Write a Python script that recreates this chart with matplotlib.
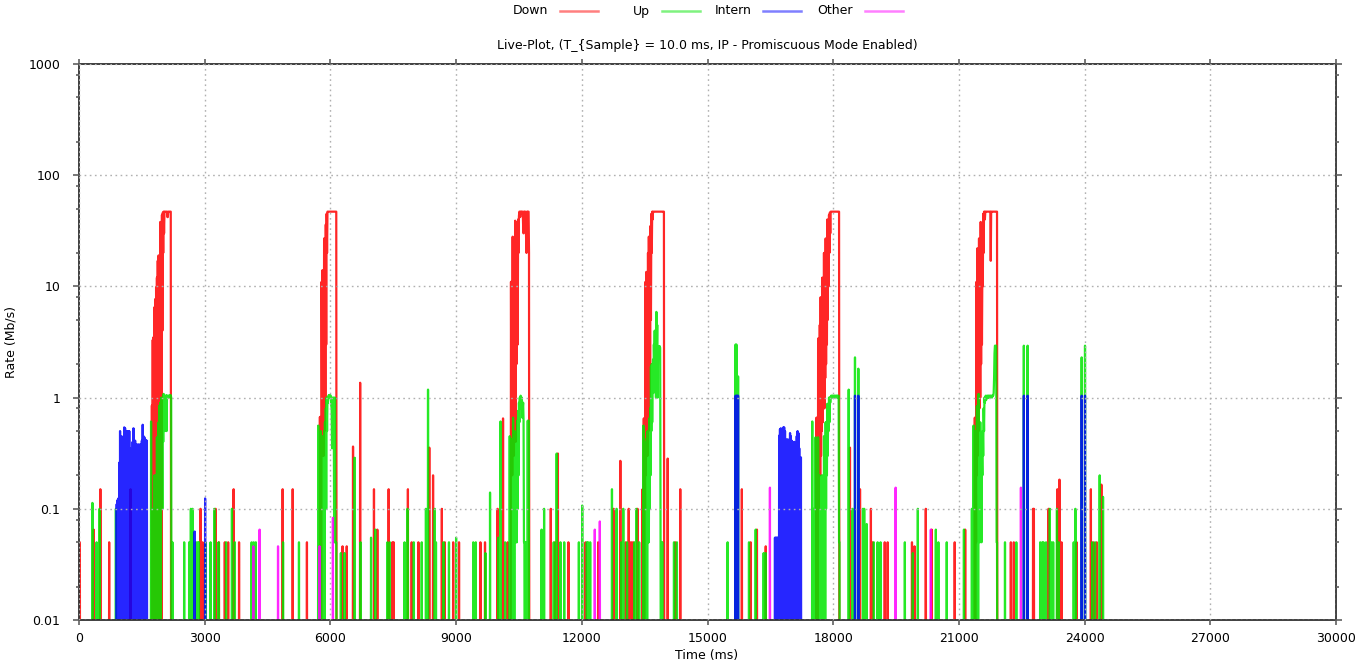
import numpy as np
import matplotlib.pyplot as plt
from matplotlib.ticker import FixedLocator, LogLocator, NullFormatter
from matplotlib.lines import Line2D

plt.rcParams['path.simplify'] = False
plt.rcParams['font.family'] = ['DejaVu Sans']
FS = 9

# sampling of the live plot
T_SAMPLE = 10      # ms
T_END = 24450      # ms, last sample shown

series_names = ['Down', 'Up', 'Intern', 'Other']
series_colors = ['#ff0000', '#00e600', '#0000ff', '#ff00ff']

x_ticks = [0, 3000, 6000, 9000, 12000, 15000, 18000, 21000, 24000, 27000, 30000]
y_ticks = [0.01, 0.1, 1, 10, 100, 1000]
y_tick_labels = ['0.01', '0.1', '1', '10', '100', '1000']

# ---- Down (Mb/s) ----
down_t = [20, 350, 510, 720, 1230, 2900, 2950, 3260, 3340, 3480, 3560, 3690, 3820,
          4860, 5100, 5440, 6290, 6390, 6540, 6710, 7040, 7120, 7390, 7480, 7510,
          7850, 7940, 8100, 8360, 8450, 8660, 8730, 8930, 9070, 9580, 9690, 9990,
          10120, 10230, 11260, 11360, 11430, 11680, 12090, 12390, 12760, 12920,
          13050, 13120, 13150, 13190, 13230, 13330, 13450, 14050, 14230, 14350,
          15820, 16030, 16180, 16390, 18400, 18640, 18900, 18940, 19230, 19300,
          19880, 19940, 20210, 20350, 20900, 21150, 22240, 22310, 22770, 22790,
          23140, 23350, 23400, 23450, 23810, 24150, 24210, 24290, 24400]
down_v = [0.05, 0.065, 0.15, 0.05, 0.15, 0.1, 0.05, 0.1, 0.05, 0.05, 0.05, 0.15, 0.05,
          0.15, 0.15, 0.05, 0.046, 0.046, 0.363, 1.36, 0.15, 0.065, 0.15, 0.05, 0.05,
          0.15, 0.05, 0.05, 0.355, 0.2, 0.1, 0.05, 0.05, 0.05, 0.05, 0.05, 0.1,
          0.65, 0.05, 0.1, 0.05, 0.314, 0.05, 0.05, 0.05, 0.1, 0.27,
          0.05, 0.1, 0.05, 0.05, 0.05, 0.1, 0.15, 0.283, 0.05, 0.15,
          0.15, 0.05, 0.065, 0.046, 0.355, 0.15, 0.1, 0.05, 0.05, 0.05,
          0.05, 0.046, 0.1, 0.065, 0.05, 0.065, 0.05, 0.05, 0.1, 0.1,
          0.1, 0.15, 0.183, 0.05, 0.05, 0.15, 0.05, 0.05, 0.165]
down_burst_starts = [1740, 5750, 10310, 13480, 17600, 21380]
down_bursts = [
    [0.85, 0, 3.3, 0, 3.5, 0.2, 6.5, 0, 7.7, 0, 9.8, 0.3, 12, 0, 17, 0, 19, 1, 18, 0,
     38, 3, 38, 0, 44, 4, 46, 20, 47, 30, 47, 47, 47, 47, 47, 47, 47, 42, 42, 47,
     47, 47, 47, 47, 47, 47, 0],
    [0.67, 0, 0.67, 0, 11, 0.3, 14, 0.3, 12, 0.3, 27, 0.5, 20, 1, 36, 3, 45, 20,
     47, 47, 47, 47, 47, 47, 47, 47, 47, 47, 47, 47, 47, 47, 47, 47, 47, 47, 47, 47,
     47, 47, 0],
    [11, 0.3, 9, 0.2, 28, 0.5, 17, 0.3, 27, 1, 39, 0.4, 38, 2, 8, 17, 3, 40, 20, 43,
     47, 47, 42, 47, 47, 45, 47, 47, 47, 35, 30, 47, 47, 44, 47, 40, 28, 20, 47, 44,
     47, 47, 47, 20, 0],
    [0.65, 0, 0.65, 0.1, 11, 0.2, 13.5, 0.3, 10, 0.3, 20, 0.5, 28, 1, 28, 2, 35, 5,
     45, 20, 47, 40, 47, 47, 47, 47, 47, 47, 47, 47, 47, 47, 47, 47, 47, 47, 47, 47,
     47, 47, 47, 47, 47, 47, 47, 47, 47, 47, 47, 0],
    [0.66, 0, 0.66, 0, 3.4, 0.1, 3.4, 0.3, 4.5, 0.2, 8, 0.3, 6, 0.5, 12, 0.6, 10, 1,
     20, 0.8, 18, 1.5, 27, 2, 25, 3, 40, 5, 38, 10, 44, 20, 46, 30, 47, 47, 47, 47,
     47, 47, 47, 47, 47, 47, 47, 47, 47, 47, 47, 47, 47, 47, 47, 47, 47, 0],
    [0.66, 0, 0.66, 0.05, 11, 0.2, 22, 0.3, 11, 0.5, 27, 0.8, 20, 1, 38, 2, 30, 3,
     15, 10, 45, 20, 47, 47, 40, 47, 47, 47, 47, 47, 47, 47, 47, 47, 47, 47, 47, 47,
     17, 47, 47, 47, 47, 47, 47, 47, 47, 47, 47, 47, 47, 47, 47, 47, 0],
]

# ---- Up (Mb/s) ----
up_t = [320, 420, 490, 880, 2230, 2510, 2630, 2670, 2710, 2790, 2830, 2860, 3020,
        3140, 3230, 3330, 3510, 3650, 3720, 4120, 4170, 4220, 4870, 5250, 6250,
        6340, 6580, 6720, 6970, 7070, 7360, 7420, 7770, 7840, 7990, 8180, 8280,
        8330, 8490, 8520, 8700, 8830, 9000, 9410, 9470, 9700, 9810, 10010, 10060,
        10170, 11040, 11100, 11330, 11400, 11490, 11580, 11930, 12010, 12120,
        12150, 12200, 12720, 12830, 12940, 12990, 13080, 13260, 13300, 13370,
        14200, 14270, 15480, 15670, 15690, 15710, 15730, 15990, 16150, 16340,
        16390, 17500, 18370, 18460, 18520, 18600, 18710, 18740, 18800, 18970,
        19060, 19130, 19710, 19900, 20020, 20450, 20510, 20710, 21120, 22100,
        22370, 22550, 22640, 22940, 22990, 23020, 23080, 23170, 23210, 23250,
        23340, 23380, 23740, 23780, 23930, 24010, 24180, 24250, 24360, 24440]
up_v = [0.113, 0.05, 0.1, 0.1, 0.05, 0.05, 0.05, 0.1, 0.1, 0.05, 0.05, 0.05, 0.05,
        0.05, 0.1, 0.05, 0.05, 0.1, 0.05, 0.05, 0.05, 0.05, 0.05, 0.05, 0.04,
        0.04, 0.288, 0.05, 0.055, 0.065, 0.05, 0.05, 0.05, 0.1, 0.05, 0.05, 0.1,
        1.18, 0.1, 0.05, 0.05, 0.05, 0.055, 0.05, 0.05, 0.04, 0.14, 0.055, 0.61,
        0.05, 0.065, 0.1, 0.05, 0.314, 0.05, 0.05, 0.05, 0.107, 0.05,
        0.05, 0.05, 0.15, 0.1, 0.05, 0.1, 0.05, 0.05, 0.1, 0.05,
        0.05, 0.05, 0.05, 3.0, 3.0, 1.55, 1.55, 0.05, 0.065, 0.04,
        0.04, 0.61, 1.18, 0.1, 2.3, 1.82, 0.1, 0.1, 0.073, 0.05,
        0.05, 0.05, 0.05, 0.04, 0.1, 0.065, 0.05, 0.05, 0.065, 0.05,
        0.05, 2.93, 2.93, 0.05, 0.05, 0.05, 0.05, 0.1, 0.05, 0.05,
        0.1, 0.05, 0.05, 0.1, 2.3, 2.93, 0.05, 0.05, 0.2, 0.128]
up_burst_starts = [1720, 5710, 10280, 13470, 17540, 21310]
up_bursts = [
    [0.61, 0, 0.05, 0, 0.1, 0, 0.05, 0, 0.2, 0, 0.05, 0, 0.2, 0, 0.44, 0, 0.3, 0,
     0.6, 0, 0.85, 0.05, 0.9, 0, 1.0, 0.3, 0.5, 0.1, 0.9, 0.4, 1.08, 0.6, 1.0, 0.5,
     0.6, 1.0, 1.05, 0.5, 1.04, 1.04, 1.0, 1.04, 1.04, 1.0, 1.04, 1.05, 1.04, 1.05,
     1.0, 0],
    [0.56, 0, 0.05, 0, 0.3, 0, 0.5, 0, 0.2, 0, 0.45, 0, 0.3, 0.05, 0.5, 0, 0.6, 0.1,
     0.8, 0.1, 1.0, 0.5, 1.0, 0.9, 1.0, 1.05, 1.0, 1.05, 1.0, 1.05, 1.0, 0.85, 0.8,
     0.35, 1.0, 1.0, 1.0, 1.0, 0.05, 0.05, 1.0, 0.05, 0.05, 0.05, 0],
    [0.45, 0, 0.43, 0, 0.3, 0, 0.25, 0, 0.66, 0, 0.4, 0, 0.5, 0.05, 0.23, 0.05, 0.35,
     0.05, 0.62, 0.1, 0.76, 0.2, 0.9, 0.6, 1.0, 0.8, 1.04, 1.0, 0.8, 1.0, 0.66, 0.8,
     0.9, 0.62, 0.05, 0.05, 0, 0.05, 0, 0.05, 0, 0.05, 0, 0.62, 0, 0.62, 0],
    [0.56, 0, 0.43, 0, 0.3, 0, 0.29, 0, 0.4, 0, 0.5, 0.05, 0.3, 0.05, 0.65, 0.1, 0.8,
     0.2, 1.9, 0.5, 2.0, 0.6, 1.5, 2.2, 1.1, 3.0, 2.0, 4.0, 1.2, 2.5, 1.0, 5.9, 2.0,
     4.5, 1.0, 2.9, 2.8, 2.9, 2.8, 2.9, 2.8, 0.05, 0, 0.05, 0, 0.05, 0],
    [0.1, 0, 0.05, 0, 0.44, 0, 0.3, 0, 0.1, 0, 0.44, 0, 0.2, 0, 0.15, 0, 0.1, 0, 0.2,
     0, 0.15, 0, 0.2, 0, 0.45, 0.05, 0.3, 0, 0.6, 0.1, 0.6, 0.2, 0.88, 0.3, 0.78, 0.5,
     1.0, 0.6, 1.0, 0.9, 1.0, 1.04, 1.0, 1.04, 1.04, 1.0, 1.04, 1.04, 1.04, 1.0, 1.04,
     1.04, 1.04, 1.0, 1.04, 1.04, 1.04, 1.0, 1.04, 1.04, 0.05, 0.05, 0],
    [0.1, 0, 0.05, 0, 0.56, 0, 0.43, 0, 0.31, 0, 0.5, 0, 0.84, 0.05, 0.4, 0, 1.08,
     0.1, 0.3, 0.05, 0.6, 0.1, 0.2, 0.05, 0.3, 0.2, 0.5, 0.3, 0.8, 0.5, 1.0, 0.9, 1.0,
     1.04, 0.95, 1.0, 1.04, 1.0, 1.04, 1.0, 1.04, 1.0, 1.04, 1.04, 1.0, 1.04, 1.04,
     1.04, 1.0, 1.04, 1.04, 1.04, 1.1, 1.5, 2.5, 2.93, 2.93, 2.93, 2.93, 0.05, 0.05,
     0],
]

# ---- Intern (Mb/s) ----
intern_t = [2760, 3010, 15670, 15690, 15710, 15730, 18520, 18600, 22550, 22640,
            23930, 24010]
intern_v = [0.0625, 0.124, 1.04, 1.04, 1.04, 1.04, 1.04, 1.04, 1.04, 1.04, 1.04, 1.04]
intern_burst_starts = [900, 16610]
intern_bursts = [
    [0.11, 0, 0.12, 0, 0.124, 0, 0.26, 0, 0.5, 0, 0.45, 0, 0.405, 0, 0.38, 0, 0.45,
     0, 0.54, 0, 0.53, 0, 0.41, 0, 0.5, 0, 0.5, 0, 0.5, 0, 0.5, 0, 0.35, 0, 0.29, 0,
     0.29, 0, 0.4, 0, 0.53, 0, 0.41, 0, 0.41, 0, 0.31, 0, 0.38, 0, 0.33, 0, 0.38, 0,
     0.29, 0, 0.38, 0, 0.37, 0, 0.41, 0, 0.57, 0, 0.45, 0, 0.44, 0, 0.42, 0, 0.41, 0,
     0.41, 0],
    [0.055, 0, 0.055, 0, 0.055, 0, 0.055, 0, 0.055, 0, 0.455, 0, 0.52, 0, 0.53, 0,
     0.42, 0, 0.36, 0, 0.54, 0, 0.54, 0, 0.5, 0, 0.36, 0, 0.42, 0, 0.42, 0, 0.41, 0,
     0.42, 0, 0.48, 0, 0.45, 0, 0.41, 0, 0.4, 0, 0.38, 0, 0.4, 0, 0.38, 0, 0.38, 0,
     0.45, 0, 0.5, 0, 0.48, 0, 0.35, 0, 0.29, 0, 0.29, 0],
]

# ---- Other (Mb/s) ----
other_t = [4160, 4310, 4750, 5740, 6060, 12310, 12430, 16490, 19490, 20330, 22480]
other_v = [0.046, 0.065, 0.046, 0.046, 0.083, 0.065, 0.077, 0.155, 0.155, 0.065, 0.155]

n_samples = T_END // T_SAMPLE + 1
time_ms = np.arange(n_samples) * T_SAMPLE


def build_series(sparse_t, sparse_v, starts=(), bursts=()):
    rate = np.zeros(n_samples)
    for t, v in zip(sparse_t, sparse_v):
        rate[int(round(t / T_SAMPLE))] = v
    for s, b in zip(starts, bursts):
        i0 = int(round(s / T_SAMPLE))
        rate[i0:i0 + len(b)] = b
    # zero samples fall below the log axis
    return np.where(rate > 0, rate, 1e-4)


series = [
    build_series(down_t, down_v, down_burst_starts, down_bursts),
    build_series(up_t, up_v, up_burst_starts, up_bursts),
    build_series(intern_t, intern_v, intern_burst_starts, intern_bursts),
    build_series(other_t, other_v),
]

fig = plt.figure(figsize=(13.6, 6.66), dpi=100)
ax = fig.add_axes([79 / 1360, 1 - 620 / 666, (1336 - 79) / 1360, (620 - 64) / 666])

for rate, color in zip(series, series_colors):
    ax.plot(time_ms, rate, color=color, lw=1.6, alpha=0.85)

ax.set_yscale('log')
ax.set_xlim(0, 30000)
ax.set_ylim(0.01, 1000)
ax.xaxis.set_major_locator(FixedLocator(x_ticks))
ax.set_xticklabels([str(x) for x in x_ticks])
ax.yaxis.set_major_locator(FixedLocator(y_ticks))
ax.set_yticklabels(y_tick_labels)
ax.yaxis.set_minor_locator(LogLocator(base=10, subs=(2, 5, 8)))
ax.yaxis.set_minor_formatter(NullFormatter())

ax.tick_params(which='both', direction='out', top=True, right=True,
               color='#606060', labelsize=FS, width=1.2)
ax.tick_params(axis='y', which='major', length=4.5, pad=9)
ax.tick_params(axis='y', which='minor', length=2.2)
ax.tick_params(axis='x', which='major', length=3.5, pad=5)

ax.set_axisbelow(False)
ax.grid(True, which='major', color='#b0b0b0', linestyle=(0, (1.2, 2.5)), linewidth=1)
for sp in ax.spines.values():
    sp.set_color('#303030')
    sp.set_linewidth(1.3)

fig.text(707 / 1360, 1 - 45 / 666,
         'Live-Plot, (T_{Sample} = 10.0 ms, IP - Promiscuous Mode Enabled)',
         ha='center', va='center', fontsize=FS)
fig.text(707 / 1360, 1 - 655 / 666, 'Time (ms)', ha='center', va='center', fontsize=FS)
fig.text(11 / 1360, 1 - 342 / 666, 'Rate (Mb/s)', rotation=90,
         ha='center', va='center', fontsize=FS)

# legend row: right aligned label, then line sample
for i, (name, color) in enumerate(zip(series_names, series_colors)):
    x0 = 548 + 101.7 * i
    fig.text(x0 / 1360, 1 - 11 / 666, name, ha='right', va='center', fontsize=FS)
    fig.add_artist(Line2D([(x0 + 12) / 1360, (x0 + 50) / 1360],
                          [1 - 11 / 666, 1 - 11 / 666],
                          color=color, alpha=0.5, lw=1.8))

fig.savefig('out.png', dpi=100)
